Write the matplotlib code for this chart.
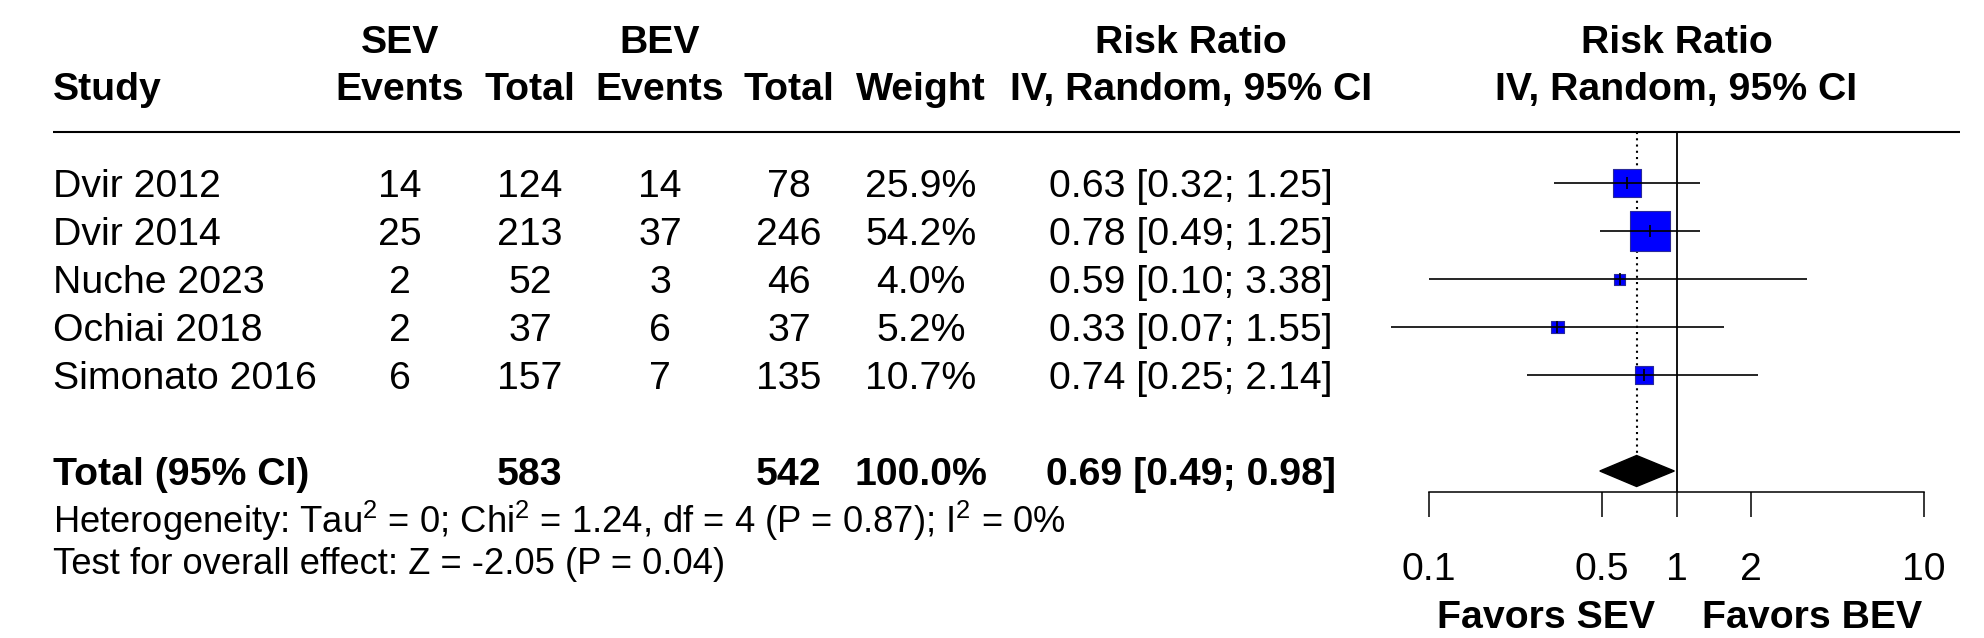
import numpy as np
import matplotlib
matplotlib.use("Agg")
import matplotlib.pyplot as plt
from matplotlib.patches import Polygon

plt.rcParams['font.family'] = ['Liberation Sans', 'DejaVu Sans']
plt.rcParams['mathtext.fontset'] = 'custom'
plt.rcParams['mathtext.rm'] = 'Liberation Sans'
plt.rcParams['mathtext.it'] = 'Liberation Sans:italic'
plt.rcParams['mathtext.bf'] = 'Liberation Sans:bold'

# data
studies = ["Dvir 2012", "Dvir 2014", "Nuche 2023", "Ochiai 2018", "Simonato 2016"]
sev_events = [14, 25, 2, 2, 6]
sev_total = [124, 213, 52, 37, 157]
bev_events = [14, 37, 3, 6, 7]
bev_total = [78, 246, 46, 37, 135]
weights = [25.9, 54.2, 4.0, 5.2, 10.7]
rr = [0.63, 0.78, 0.59, 0.33, 0.74]
rr_lo = [0.32, 0.49, 0.10, 0.07, 0.25]
rr_hi = [1.25, 1.25, 3.38, 1.55, 2.14]

total_sev = 583
total_bev = 542
total_weight = 100.0
total_rr, total_lo, total_hi = 0.69, 0.49, 0.98

het_text = r"Heterogeneity: Tau$^2$ = 0; Chi$^2$ = 1.24, df = 4 (P = 0.87); I$^2$ = 0%"
test_text = "Test for overall effect: Z = -2.05 (P = 0.04)"

xticks = [0.1, 0.5, 1, 2, 10]
xtick_labels = ["0.1", "0.5", "1", "2", "10"]
label_left = "Favors SEV"
label_right = "Favors BEV"

# layout (pixels, figure is 1984 x 638)
W, H = 1984, 638
fs = 28.3
cap = 14          # half cap height, px
row0, step = 183, 48
hdr1, hdr2 = 39, 86
line_y = 132
axis_y = 492
cols = {"study": 53, "sev_e": 400, "sev_t": 530, "bev_e": 660,
        "bev_t": 789, "w": 921, "ci": 1191}
x_lo_px, x_hi_px = 1429, 1924

fig = plt.figure(figsize=(W / 100, H / 100), dpi=100)
ax = fig.add_axes([0, 0, 1, 1])
ax.set_xlim(0, W)
ax.set_ylim(H, 0)
ax.axis("off")


def txt(x, y, s, ha="center", bold=False, size=fs):
    ax.text(x, y + cap, s, ha=ha, va="baseline", fontsize=size,
            fontweight="bold" if bold else "normal")


# header
txt(cols["study"], hdr2, "Study", ha="left", bold=True)
txt(cols["sev_e"], hdr1, "SEV", bold=True)
txt(cols["bev_e"], hdr1, "BEV", bold=True)
for c, s in [("sev_e", "Events"), ("sev_t", "Total"), ("bev_e", "Events"),
             ("bev_t", "Total"), ("w", "Weight")]:
    txt(cols[c], hdr2, s, bold=True)
txt(cols["ci"], hdr1, "Risk Ratio", bold=True)
txt(cols["ci"], hdr2, "IV, Random, 95% CI", bold=True)
fc = (x_lo_px + x_hi_px) / 2
txt(fc, hdr1, "Risk Ratio", bold=True)
txt(fc, hdr2, "IV, Random, 95% CI", bold=True)
ax.hlines(line_y, 53, 1960, color="black", lw=1.5)

# study rows
for i, s in enumerate(studies):
    y = row0 + i * step
    txt(cols["study"], y, s, ha="left")
    txt(cols["sev_e"], y, str(sev_events[i]))
    txt(cols["sev_t"], y, str(sev_total[i]))
    txt(cols["bev_e"], y, str(bev_events[i]))
    txt(cols["bev_t"], y, str(bev_total[i]))
    txt(cols["w"], y, f"{weights[i]:.1f}%")
    txt(cols["ci"], y, f"{rr[i]:.2f} [{rr_lo[i]:.2f}; {rr_hi[i]:.2f}]")

ty = row0 + 6 * step
txt(cols["study"], ty, "Total (95% CI)", ha="left", bold=True)
txt(cols["sev_t"], ty, str(total_sev), bold=True)
txt(cols["bev_t"], ty, str(total_bev), bold=True)
txt(cols["w"], ty, f"{total_weight:.1f}%", bold=True)
txt(cols["ci"], ty, f"{total_rr:.2f} [{total_lo:.2f}; {total_hi:.2f}]", bold=True)

txt(cols["study"], ty + step, het_text, ha="left", size=26.2)
txt(cols["study"], ty + step + 41, test_text, ha="left", size=26.2)

# forest panel
axf = fig.add_axes([x_lo_px / W, 0, (x_hi_px - x_lo_px) / W, 1])
axf.set_xscale("log")
axf.set_xlim(0.1, 10)
axf.set_ylim(H, 0)
axf.patch.set_alpha(0)
for sp in ["top", "left", "right"]:
    axf.spines[sp].set_visible(False)
axf.spines["bottom"].set_position(("data", axis_y))
axf.spines["bottom"].set_linewidth(1.1)
axf.set_yticks([])
axf.set_xticks(xticks)
axf.set_xticklabels(xtick_labels)
axf.xaxis.set_minor_locator(matplotlib.ticker.NullLocator())
axf.tick_params(axis="x", direction="out", length=18, width=1.1,
                labelsize=fs, pad=25)

diam_h = 31
axf.vlines(1, line_y, axis_y, color="black", lw=1.3, clip_on=False)
axf.vlines(total_rr, line_y, ty - diam_h / 2, color="black", lw=1.5,
           linestyles=(0, (1, 2)), clip_on=False)

ys = [row0 + i * step for i in range(len(studies))]
sizes = [(5.5 * np.sqrt(w) * 0.72) ** 2 for w in weights]
axf.scatter(rr, ys, s=sizes, marker="s", color="#0000FF",
            edgecolors="#2a2a9a", linewidths=0.8, zorder=3, clip_on=False)
axf.hlines(ys, rr_lo, rr_hi, color="black", lw=1.2, zorder=4, clip_on=False)
axf.scatter(rr, ys, s=(12 * 0.72) ** 2, marker="|", color="black",
            linewidths=1.2, zorder=5, clip_on=False)

diamond = Polygon([(total_lo, ty), (total_rr, ty - diam_h / 2),
                   (total_hi, ty), (total_rr, ty + diam_h / 2)],
                  closed=True, color="black", zorder=4, clip_on=False)
axf.add_patch(diamond)

fav_y = 614 + cap
axf.text(0.82, fav_y, label_left, ha="right", va="baseline",
         fontsize=fs, fontweight="bold")
axf.text(1.27, fav_y, label_right, ha="left", va="baseline",
         fontsize=fs, fontweight="bold")

fig.savefig("out.png", dpi=100)
